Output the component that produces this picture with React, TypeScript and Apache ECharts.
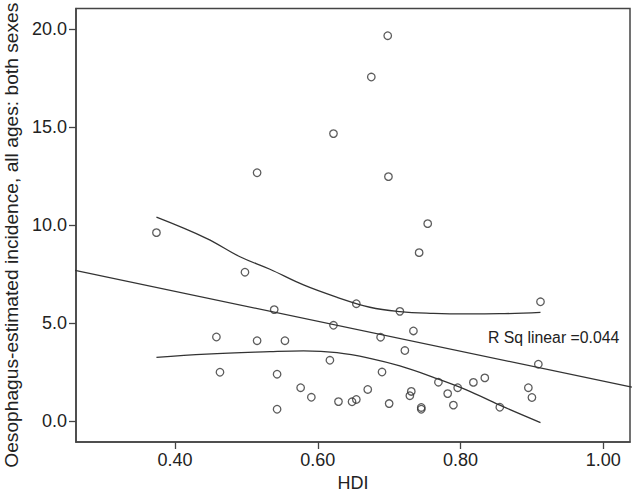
import React, { useEffect, useRef } from "react";
import * as echarts from "echarts";

const hdi = [0.374, 0.498, 0.458, 0.463, 0.515, 0.515, 0.539, 0.543, 0.543, 0.554, 0.576, 0.591, 0.617, 0.622, 0.622, 0.629, 0.648, 0.654, 0.654, 0.67, 0.675, 0.688, 0.69, 0.698, 0.699, 0.7, 0.715, 0.722, 0.729, 0.731, 0.734, 0.742, 0.745, 0.745, 0.754, 0.769, 0.782, 0.79, 0.796, 0.818, 0.834, 0.855, 0.895, 0.9, 0.909, 0.912];
const incidence = [9.61, 7.59, 4.28, 2.48, 12.67, 4.09, 5.68, 2.38, 0.59, 4.09, 1.69, 1.2, 3.09, 14.67, 4.88, 0.98, 0.97, 1.09, 5.98, 1.6, 17.56, 4.27, 2.49, 19.67, 12.47, 0.88, 5.59, 3.59, 1.28, 1.5, 4.59, 8.59, 0.68, 0.59, 10.07, 1.97, 1.39, 0.8, 1.69, 1.96, 2.19, 0.69, 1.69, 1.19, 2.89, 6.08];

const fitX = [0.26, 1.04];
const fitY = [7.68, 1.72];

const bandX = [0.374, 0.444, 0.491, 0.533, 0.58, 0.627, 0.673, 0.715, 0.762, 0.808, 0.855, 0.912];
const upperY = [10.4, 9.32, 8.38, 7.74, 6.94, 6.31, 5.8, 5.58, 5.49, 5.46, 5.47, 5.54];
const lowerX = [0.374, 0.444, 0.533, 0.58, 0.627, 0.673, 0.715, 0.762, 0.809, 0.855, 0.912];
const lowerY = [3.24, 3.41, 3.53, 3.57, 3.48, 3.19, 2.8, 2.22, 1.57, 0.8, -0.09];

const xTicks = [0.4, 0.6, 0.8, 1.0];
const yTicks = [0, 5, 10, 15, 20];

const xTitle = "HDI";
const yTitle = "Oesophagus-estimated incidence, all ages: both sexes";
const rsqText = "R Sq linear =0.044";

const FONT = "'Liberation Sans', Arial, Helvetica, sans-serif";
const INK = "#333333";

export default function App() {
  const ref = useRef<HTMLDivElement>(null);
  useEffect(() => {
    if (!ref.current) return;
    const chart = echarts.init(ref.current, null, { renderer: "svg" });
    const lineStyle = { color: INK, width: 1.3 };
    chart.setOption({
      animation: false,
      backgroundColor: "#ffffff",
      textStyle: { fontFamily: FONT },
      grid: {
        left: 76,
        right: 2,
        top: 8.5,
        bottom: 55,
        containLabel: false,
        outerBoundsMode: "none",
        show: true,
        borderColor: "#444444",
        borderWidth: 1.5,
        backgroundColor: "transparent",
      },
      xAxis: {
        type: "value",
        min: 0.2613,
        max: 1.0374,
        name: xTitle,
        nameLocation: "middle",
        nameGap: 31,
        nameTextStyle: { fontSize: 18, color: "#222", fontFamily: FONT },
        splitLine: { show: false },
        axisLine: { show: true, onZero: false, lineStyle: { color: "#444", width: 1.5 } },
        axisTick: { show: true, length: 7, customValues: xTicks, lineStyle: { color: "#444", width: 1.3 } },
        axisLabel: {
          customValues: xTicks,
          formatter: (v: number) => v.toFixed(2),
          fontSize: 18,
          color: "#222",
          margin: 9,
          fontFamily: FONT,
        },
      },
      yAxis: {
        type: "value",
        min: -1.083,
        max: 21.06,
        name: yTitle,
        nameLocation: "middle",
        nameGap: 53,
        nameTextStyle: { fontSize: 19.2, color: "#222", fontFamily: FONT, padding: [0, 20, 0, 0] },
        splitLine: { show: false },
        axisLine: { show: true, onZero: false, lineStyle: { color: "#444", width: 1.5 } },
        axisTick: { show: true, length: 7, customValues: yTicks, lineStyle: { color: "#444", width: 1.3 } },
        axisLabel: {
          customValues: yTicks,
          formatter: (v: number) => v.toFixed(1),
          fontSize: 18,
          color: "#222",
          margin: 9,
          fontFamily: FONT,
        },
      },
      graphic: [
        {
          type: "text",
          left: 488,
          top: 329,
          style: { text: rsqText, fontSize: 15.8, fill: "#222", fontFamily: FONT },
          z: 10,
        },
      ],
      series: [
        {
          type: "line",
          data: fitX.map((x, i) => [x, fitY[i]]),
          showSymbol: false,
          symbol: "none",
          lineStyle,
          silent: true,
          z: 2,
        },
        {
          type: "line",
          data: bandX.map((x, i) => [x, upperY[i]]),
          smooth: 0.4,
          symbol: "none",
          lineStyle,
          silent: true,
          z: 2,
        },
        {
          type: "line",
          data: lowerX.map((x, i) => [x, lowerY[i]]),
          smooth: 0.4,
          symbol: "none",
          lineStyle,
          silent: true,
          z: 2,
        },
        {
          type: "scatter",
          data: hdi.map((x, i) => [x, incidence[i]]),
          symbol: "circle",
          symbolSize: 7.5,
          itemStyle: { color: "transparent", borderColor: INK, borderWidth: 1.3 },
          z: 3,
        },
      ],
    });
    return () => chart.dispose();
  }, []);
  return <div ref={ref} style={{ width: 632, height: 497, position: "absolute", left: 0, top: 0 }} />;
}
